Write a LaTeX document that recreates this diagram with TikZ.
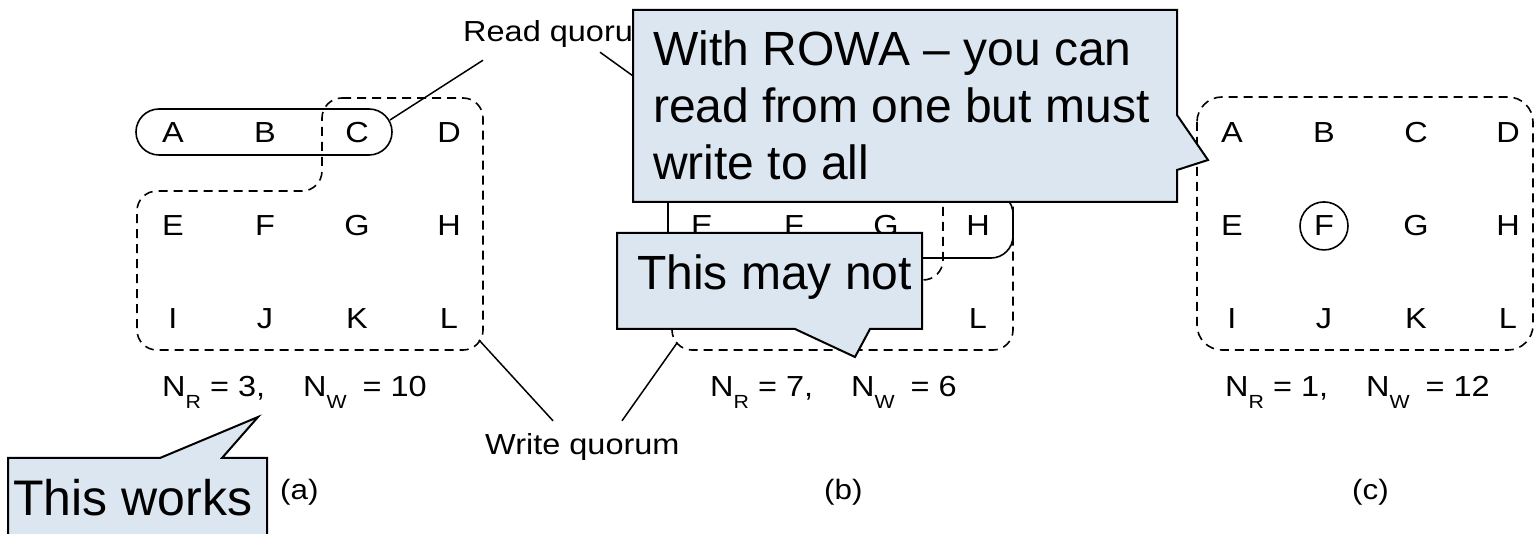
\documentclass[tikz,border=0pt]{standalone}
\usepackage{fontspec}
\setmainfont{Liberation Sans}
\newfontfamily\figfont[FakeStretch=1.12]{Liberation Sans}
\usetikzlibrary{matrix}

\definecolor{calloutblue}{RGB}{220,230,240}
\newcommand{\qsub}[1]{\raisebox{-12pt}{\fontsize{19}{19}\selectfont #1}}

\tikzset{
  letter/.style={font=\figfont\fontsize{29}{29}\selectfont,minimum width=92pt,minimum height=93pt,inner sep=0pt},
  grid/.style={matrix of nodes,nodes={letter},nodes in empty cells,column sep=0pt,row sep=0pt},
  readq/.style={line width=1.6pt,rounded corners=22pt},
  writeq/.style={line width=1.6pt,rounded corners=20pt,dash pattern=on 9pt off 6pt},
  lead/.style={line width=1.5pt},
  tag/.style={font=\figfont\fontsize{29}{29}\selectfont,inner sep=0pt,anchor=base west},
  count/.style={font=\figfont\fontsize{29}{29}\selectfont,inner sep=0pt,anchor=base west},
  bubble/.style={draw=black,line width=2pt,fill=calloutblue,line join=miter},
  say/.style={font=\fontsize{48}{57}\selectfont,inner sep=0pt}
}

\begin{document}
\begin{tikzpicture}[x=1pt,y=-1pt]
  \useasboundingbox (0,0) rectangle (1535,534);

  % the three grids of replicas (top row of (b) sits under the ROWA note)
  \matrix (ma) at (311,226) [grid] { A & B & C & D \\ E & F & G & H \\ I & J & K & L \\ };
  \matrix (mb) at (840,226) [grid] {   &   &   &   \\ E & F & G & H \\ I & J & K & L \\ };
  \matrix (mc) at (1370,226) [grid] { A & B & C & D \\ E & F & G & H \\ I & J & K & L \\ };

  % (a) read and write quorums
  \draw[readq,rounded corners=23pt] (136,109) rectangle (392,155);
  \draw[writeq] (322,98) -- (483,98) -- (483,350) -- (137,350) -- (137,191) -- (322,191) -- cycle;

  % (b)
  \draw[readq] (668,108) -- (935,108) -- (935,192) -- (1013,192) -- (1013,258) -- (668,258) -- cycle;
  \draw[writeq] (943,98) -- (1013,98) -- (1013,350) -- (672,350) -- (672,280) -- (943,280) -- cycle;

  % (c)
  \draw[writeq,rounded corners=25pt] (1197,97) rectangle (1533,350);
  \draw[line width=1.6pt] (mc-2-2) circle[radius=24pt];

  \node[count] (na) at (162,397) {N\qsub{R} = 3,\hspace{38pt}N\qsub{W}\hspace{7pt} = 10};
  \node[count] (nb) at (710,397) {N\qsub{R} = 7,\hspace{38pt}N\qsub{W}\hspace{7pt} = 6};
  \node[count] (nc) at (1225,397) {N\qsub{R} = 1,\hspace{38pt}N\qsub{W}\hspace{7pt} = 12};

  \node[count,font=\figfont\fontsize{28}{28}\selectfont] (pa) at (280,500) {(a)};
  \node[count,font=\figfont\fontsize{28}{28}\selectfont] (pb) at (824,500) {(b)};
  \node[count,font=\figfont\fontsize{28}{28}\selectfont] (pc) at (1352,500) {(c)};

  % labels and their leads
  \node[tag] (rq) at (463,42) {Read quorum};
  \node[tag] (wq) at (485,455) {Write quorum};
  \coordinate (ra) at (390,120);
  \coordinate (rb) at (672,104);
  \coordinate (wa) at (479,340);
  \coordinate (wb) at (677,343);
  \draw[lead] ([shift={(20,12)}]rq.south west) -- (ra);
  \draw[lead] ([shift={(137,4)}]rq.south west) -- (rb);
  \draw[lead] ([shift={(68,-13)}]wq.north west) -- (wa);
  \draw[lead] ([shift={(137,-13)}]wq.north west) -- (wb);

  % callouts
  \draw[bubble] (633,10) -- (1177,10) -- (1177,115) -- (1208,160) -- (1177,170) -- (1177,202) -- (633,202) -- cycle;
  \node[say,anchor=north west,align=left] (rowa) at (653,31)
    {With ROWA \textendash{} you can\\read from one but must\\write to all};

  \draw[bubble] (617,233) -- (922,233) -- (922,329) -- (870,329) -- (855,357) -- (795,329) -- (617,329) -- cycle;
  \node[say,anchor=base west] (maynot) at (637,290) {This may not};

  \draw[bubble] (8,458) -- (160,458) -- (258,417) -- (222,458) -- (267,458) -- (267,545) -- (8,545) -- cycle;
  \node[say,font=\fontsize{50}{57}\selectfont,anchor=base west] (works) at (13,515) {This works};
\end{tikzpicture}
\end{document}
